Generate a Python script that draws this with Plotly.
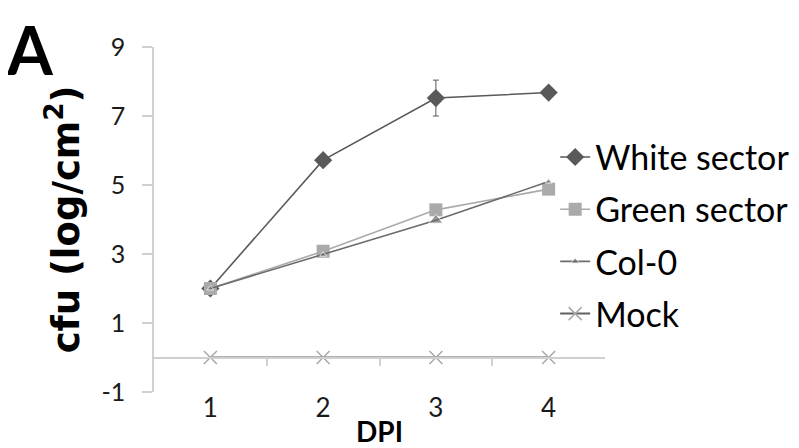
import plotly.graph_objects as go

dpi = [1, 2, 3, 4]
white_sector = [2.0, 5.72, 7.52, 7.68]
white_err = [0, 0, 0.52, 0]
green_sector = [2.0, 3.08, 4.28, 4.88]
col0 = [2.0, 2.98, 3.98, 5.1]
mock = [0, 0, 0, 0]
ytick_vals = [-1, 1, 3, 5, 7, 9]
ytick_text = ["-1", "1", "3", "5", "7", "9"]
xtick_labels = ["1", "2", "3", "4"]
boundaries = [1.5, 2.5, 3.5]

FONT = "Lato"
AX = "#d0d0d0"

fig = go.Figure()

fig.add_trace(go.Scatter(
    x=dpi, y=white_sector, name="White sector", mode="lines+markers",
    line=dict(color="#595959", width=1.6),
    marker=dict(symbol="diamond", size=14, color="#595959"),
    error_y=dict(type="data", array=white_err, visible=True, color="#595959", thickness=1, width=3),
    legendgroup="a"))
fig.add_trace(go.Scatter(
    x=dpi, y=green_sector, name="Green sector", mode="lines+markers",
    line=dict(color="#aaaaaa", width=1.6),
    marker=dict(symbol="square", size=13, color="#aaaaaa"),
    legendgroup="b"))
fig.add_trace(go.Scatter(
    x=dpi, y=col0, name="Col-0", mode="lines+markers",
    line=dict(color="#6c6c6c", width=1.6),
    marker=dict(symbol="triangle-up", size=[6, 6, 12, 6], color="#6c6c6c"),
    legendgroup="c"))
fig.add_trace(go.Scatter(
    x=dpi, y=mock, name="Mock", mode="lines+markers",
    line=dict(color="#606060", width=2),
    marker=dict(symbol="x-thin", size=13, line=dict(color="#a8a8a8", width=1.5)),
    legendgroup="d"))
# helper trace for the axis drawn at y=0
fig.add_trace(go.Scatter(x=[1], y=[None], xaxis="x2", showlegend=False, hoverinfo="skip"))

fig.update_layout(
    width=799, height=448,
    margin=dict(l=145.5, r=201.5, t=39, b=64, autoexpand=False),
    paper_bgcolor="white", plot_bgcolor="white",
    font=dict(family=FONT, color="#000000"),
    xaxis=dict(
        range=[0.5, 4.5], tickvals=dpi, ticktext=xtick_labels, automargin=False,
        showline=False, showgrid=False, zeroline=False, ticks="",
        tickfont=dict(size=26, color="#1a1a1a"), ticklabelstandoff=-2,
        title=dict(text="<b>DPI</b>", font=dict(size=28), standoff=0),
    ),
    xaxis2=dict(
        overlaying="x", anchor="free", position=0.1, range=[0.5, 4.5], automargin=False,
        showline=True, linecolor=AX, linewidth=1.5, showgrid=False, zeroline=False,
        ticks="outside", tickvals=boundaries, ticklen=8, tickcolor=AX, tickwidth=1.5,
        showticklabels=False,
    ),
    yaxis=dict(
        range=[-1, 9], tickvals=ytick_vals, ticktext=ytick_text, automargin=False,
        showline=True, linecolor=AX, linewidth=1.5,
        showgrid=False, zeroline=False, ticks="outside", ticklen=10, tickcolor=AX, tickwidth=1.5,
        tickfont=dict(size=25, color="#1a1a1a"), ticklabelstandoff=12,
        title=dict(text="<b>cfu (log/cm<sup>2</sup>)</b>",
                   font=dict(size=37, family="DejaVu Sans"), standoff=11),
    ),
    legend=dict(
        x=0.8895, y=0.764, xanchor="left", yanchor="top",
        font=dict(size=34, family=FONT, color="#000000"),
        bgcolor="rgba(0,0,0,0)", tracegroupgap=5, traceorder="grouped",
    ),
    showlegend=True,
)

fig.add_annotation(
    text="<b>A</b>", xref="paper", yref="paper", x=-0.332, y=1.113,
    xanchor="left", yanchor="top", showarrow=False, yshift=0,
    font=dict(size=66, family=FONT, color="#000000"),
)

fig.write_html("out.html")
